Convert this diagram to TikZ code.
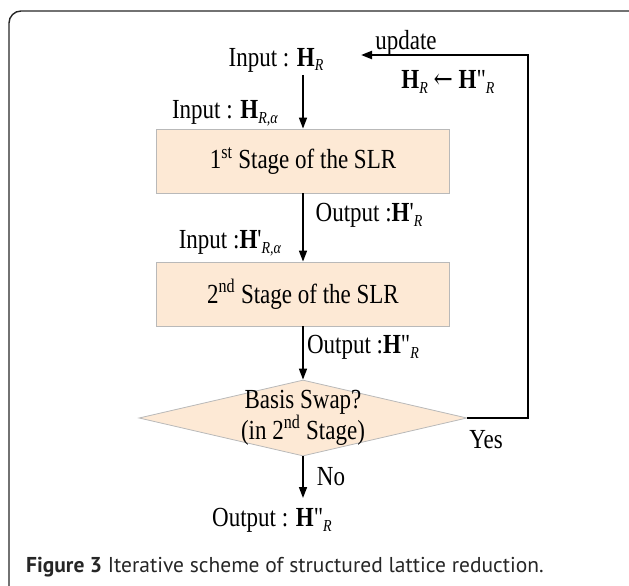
\documentclass[tikz,border=0pt]{standalone}
\usepackage{fontspec}
\setmainfont{Liberation Serif}
\newfontfamily\capfont{PT Sans}
\newfontfamily\arrfont{DejaVu Serif}
\usetikzlibrary{shapes.geometric,arrows.meta}
\definecolor{peach}{RGB}{253,233,213}
\definecolor{rim}{RGB}{185,185,185}
\newcommand{\Hb}{\textbf{H}}
\newcommand{\lsub}[1]{\raisebox{-4pt}{\fontsize{14}{14}\selectfont\textit{#1}}}
\newcommand{\tall}[1]{\scalebox{1}[1.2]{#1}}
\tikzset{
  stagebox/.style={rectangle,draw=rim,fill=peach,line width=0.8pt,minimum width=293pt,minimum height=64pt},
  swapbox/.style={diamond,draw=rim,fill=peach,line width=0.8pt,minimum width=328pt,minimum height=76pt,inner sep=0pt},
  arr/.style={-{Triangle[length=11pt,width=8pt]},line width=1.6pt},
  loopline/.style={-{Triangle[length=11pt,width=8pt]},line width=2.2pt}
}
\begin{document}
\begin{tikzpicture}[x=1pt,y=-1pt]
   \useasboundingbox (0,0) rectangle (629,586);
   \begin{scope}
    \clip (0,0) rectangle (629,586);
    \draw[line width=1.4pt,rounded corners=12pt,draw=black!85] (9,11) rectangle (650,600);
   \end{scope}
   \begin{scope}[every node/.style={font=\fontsize{23}{30}\selectfont,inner sep=0pt}]
    \node (inHR) at (276,60) {\tall{Input : \Hb\lsub{R}}};
    \node (upd) at (406,43) {\tall{update}};
    \node (rule) at (448,82) {\tall{\Hb\lsub{R} {\arrfont ←} \Hb\textquotedbl\lsub{R}}};
    \node (inHRa) at (225,113) {\tall{Input : \Hb\lsub{R,α}}};
    \node[stagebox] (s1) at (303,161) {\tall{1\textsuperscript{st} Stage of the SLR}};
    \node (outH1) at (369,215) {\tall{Output :\Hb\textquotesingle\lsub{R}}};
    \node (inH1) at (230,243) {\tall{Input :\Hb\textquotesingle\lsub{R,α}}};
    \node[stagebox] (s2) at (303,294) {\tall{2\textsuperscript{nd} Stage of the SLR}};
    \node (outH2) at (363,347) {\tall{Output :\Hb\textquotedbl\lsub{R}}};
    \node[swapbox] (swap) at (303,418) {};
    \node[align=center] (q) at (swap) {\tall{Basis Swap?}\\\tall{(in 2\textsuperscript{nd} Stage)}};
    \node (yes) at (486,440) {\tall{Yes}};
    \node (no) at (331,477) {\tall{No}};
    \node (out) at (272,520) {\tall{Output : \Hb\textquotedbl\lsub{R}}};
    \node[anchor=west,font=\capfont\fontsize{21.5}{24}\selectfont,text=black!85] (cap) at (26,567) {\textbf{Figure 3} Iterative scheme of structured lattice reduction.};
   \end{scope}
   \coordinate (fb) at (528,55);
   \coordinate (ret) at (361,55);
   \draw[arr] (s1.north |- 0,75) -- (s1.north);
   \draw[arr] (s1.south) -- (s2.north);
   \draw[arr] (s2.south) -- (swap.north);
   \draw[arr] (swap.south) -- (swap.south |- 0,498);
   \draw[loopline] (swap.east) -| (fb) -- (ret);
\end{tikzpicture}
\end{document}
